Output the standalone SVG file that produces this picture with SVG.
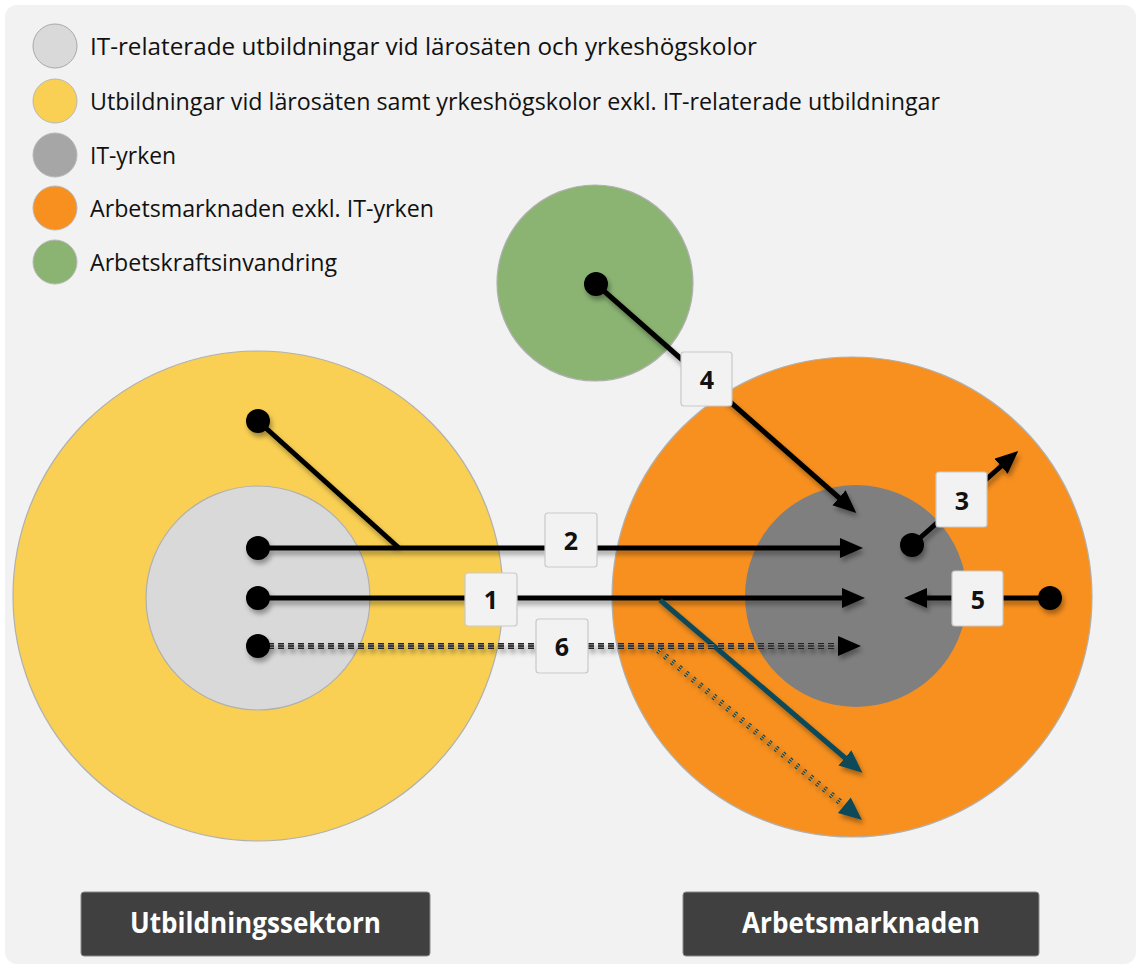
<svg xmlns="http://www.w3.org/2000/svg" width="1141" height="969" viewBox="0 0 1141 969">
  <defs>
    <style>
      .legend { font-family: "Open Sans", "Noto Sans", sans-serif; font-size: 23.5px; fill: #111; }
      .num { font-family: "Open Sans", "Noto Sans", sans-serif; font-size: 25px; font-weight: bold; fill: #111; text-anchor: middle; }
      .tag { font-family: "Open Sans", "Noto Sans", sans-serif; font-size: 28px; font-weight: bold; fill: #fff; text-anchor: middle; }
      .box { fill: #f2f2f2; stroke: #c9c9c9; stroke-width: 1.2; }
      .solid { stroke: #000; stroke-width: 5; fill: none; }
      .teal { stroke: #0f4a58; stroke-width: 5; fill: none; }
      .dot { fill: #000; }
      .ring { stroke: #b0b0b0; stroke-width: 1.2; }
    </style>
    <filter id="shadow" x="-20%" y="-20%" width="140%" height="140%">
      <feDropShadow dx="2" dy="4" stdDeviation="2.5" flood-color="#000" flood-opacity="0.35"/>
    </filter>
    <marker id="head" markerUnits="userSpaceOnUse" markerWidth="24" markerHeight="22" refX="8" refY="10" orient="auto">
      <path d="M0,0 L23,10 L0,20 Z" fill="#000"/>
    </marker>
    <marker id="headTeal" markerUnits="userSpaceOnUse" markerWidth="24" markerHeight="22" refX="8" refY="10" orient="auto">
      <path d="M0,0 L23,10 L0,20 Z" fill="#0f4a58"/>
    </marker>
  </defs>

  <!-- panel -->
  <rect x="0" y="0" width="1141" height="969" fill="#ffffff"/>
  <rect x="5" y="5" width="1131" height="959" rx="12" fill="#f2f2f2"/>

  <!-- legend -->
  <g id="legend">
    <circle cx="55" cy="46" r="22" fill="#d9d9d9" stroke="#a8a8a8" stroke-width="1"/>
    <text class="legend" x="90" y="55" textLength="667" lengthAdjust="spacingAndGlyphs">IT-relaterade utbildningar vid lärosäten och yrkeshögskolor</text>
    <circle cx="55" cy="101" r="22" fill="#f9d053" stroke="#b8b8b8" stroke-width="1"/>
    <text class="legend" x="90" y="110" textLength="850" lengthAdjust="spacingAndGlyphs">Utbildningar vid lärosäten samt yrkeshögskolor exkl. IT-relaterade utbildningar</text>
    <circle cx="55" cy="155" r="22" fill="#a6a6a6" stroke="#b8b8b8" stroke-width="1"/>
    <text class="legend" x="90" y="164" textLength="86" lengthAdjust="spacingAndGlyphs">IT-yrken</text>
    <circle cx="55" cy="208" r="22" fill="#f8901f" stroke="#b8b8b8" stroke-width="1"/>
    <text class="legend" x="90" y="217" textLength="344" lengthAdjust="spacingAndGlyphs">Arbetsmarknaden exkl. IT-yrken</text>
    <circle cx="55" cy="262" r="22" fill="#8bb473" stroke="#b8b8b8" stroke-width="1"/>
    <text class="legend" x="90" y="271" textLength="247" lengthAdjust="spacingAndGlyphs">Arbetskraftsinvandring</text>
  </g>

  <!-- sectors -->
  <g id="education">
    <circle class="ring" cx="258" cy="596" r="245" fill="#f9d053"/>
    <circle class="ring" cx="258" cy="598" r="112" fill="#d9d9d9"/>
  </g>
  <g id="labour-market">
    <circle class="ring" cx="852" cy="597" r="240" fill="#f8901f"/>
    <circle cx="856" cy="596" r="111" fill="#7f7f7f"/>
  </g>
  <g id="immigration">
    <circle class="ring" cx="595" cy="283" r="98" fill="#8bb473"/>
  </g>

  <!-- flows -->
  <g id="connectors" filter="url(#shadow)">
    <!-- 2: education (general) joins the IT flow -->
    <line class="solid" x1="258" y1="421" x2="399" y2="548"/>
    <line class="solid" x1="258" y1="548" x2="848" y2="548" marker-end="url(#head)"/>
    <!-- 1: IT education to IT jobs -->
    <line class="solid" x1="258" y1="598" x2="850" y2="598" marker-end="url(#head)"/>
    <!-- 1 branch: to other jobs -->
    <line class="teal" x1="660" y1="600" x2="851" y2="763" marker-end="url(#headTeal)"/>
    <!-- 6: dashed compound line -->
    <g>
      <line x1="258" y1="646" x2="846" y2="646" stroke="#222" stroke-width="6" stroke-dasharray="6 4"/>
      <line x1="258" y1="646" x2="846" y2="646" stroke="#8a8a8a" stroke-width="3.4" stroke-dasharray="6 4"/>
      <line x1="258" y1="646" x2="846" y2="646" stroke="#222" stroke-width="1.3" stroke-dasharray="6 4"/>
      <path d="M838,636 L861,646 L838,656 Z" fill="#000"/>
    </g>
    <!-- 6 branch: dashed teal -->
    <g>
      <line x1="658" y1="650" x2="846" y2="807" stroke="#0f4a58" stroke-width="6" stroke-dasharray="3 6"/>
      <line x1="658" y1="650" x2="846" y2="807" stroke="#f8901f" stroke-width="3.4" stroke-dasharray="3 6"/>
      <line x1="658" y1="650" x2="846" y2="807" stroke="#0f4a58" stroke-width="1.3" stroke-dasharray="3 6"/>
      <path d="M0,0 L23,10 L0,20 Z" fill="#0f4a58" transform="translate(862,820) rotate(39.9) translate(-23,-10)"/>
    </g>
    <!-- 4: labour immigration -->
    <line class="solid" x1="596" y1="284" x2="845" y2="503" marker-end="url(#head)"/>
    <!-- 3: leaving IT jobs -->
    <line class="solid" x1="912" y1="545" x2="1007" y2="461" marker-end="url(#head)"/>
    <!-- 5: entering IT jobs from other jobs -->
    <line class="solid" x1="1050" y1="598" x2="919" y2="598" marker-end="url(#head)"/>

    <circle class="dot" cx="258" cy="421" r="12"/>
    <circle class="dot" cx="258" cy="548" r="12"/>
    <circle class="dot" cx="258" cy="598" r="12"/>
    <circle class="dot" cx="258" cy="646" r="12"/>
    <circle class="dot" cx="596" cy="284" r="12"/>
    <circle class="dot" cx="912" cy="545" r="12"/>
    <circle class="dot" cx="1050" cy="598" r="12"/>
  </g>

  <!-- flow numbers -->
  <g id="label-1"><rect class="box" x="465" y="573" width="52" height="53" rx="3"/><text class="num" x="491" y="609">1</text></g>
  <g id="label-2"><rect class="box" x="545" y="513" width="52" height="54" rx="3"/><text class="num" x="571" y="550">2</text></g>
  <g id="label-3"><rect class="box" x="936" y="472" width="51" height="55" rx="3"/><text class="num" x="962" y="510">3</text></g>
  <g id="label-4"><rect class="box" x="681" y="352" width="51" height="54" rx="3"/><text class="num" x="707" y="389">4</text></g>
  <g id="label-5"><rect class="box" x="952" y="571" width="51" height="55" rx="3"/><text class="num" x="978" y="609">5</text></g>
  <g id="label-6"><rect class="box" x="536" y="619" width="52" height="54" rx="3"/><text class="num" x="562" y="656">6</text></g>

  <!-- sector captions -->
  <g id="caption-education">
    <rect x="81" y="892" width="349" height="64" rx="3" fill="#404040" stroke="#8a8a8a" stroke-width="1"/>
    <text class="tag" x="255.5" y="933" textLength="251" lengthAdjust="spacingAndGlyphs">Utbildningssektorn</text>
  </g>
  <g id="caption-labour">
    <rect x="683" y="892" width="356" height="64" rx="3" fill="#404040" stroke="#8a8a8a" stroke-width="1"/>
    <text class="tag" x="861" y="933" textLength="238" lengthAdjust="spacingAndGlyphs">Arbetsmarknaden</text>
  </g>
</svg>
